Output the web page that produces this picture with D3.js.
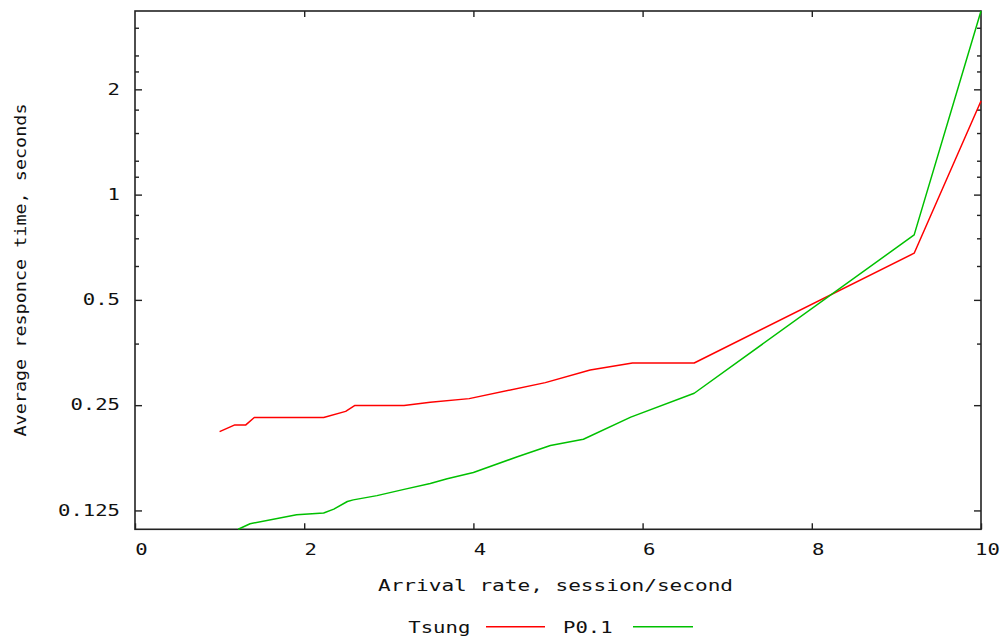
<!DOCTYPE html>
<html>
<head>
<meta charset="utf-8">
<script src="https://cdn.jsdelivr.net/npm/d3@7"></script>
<style>
  html, body { margin: 0; padding: 0; background: #fff; }
  svg { display: block; }
  text { font-family: "DejaVu Sans Mono", "Liberation Mono", monospace; font-size: 15px; fill: #111; }
</style>
</head>
<body>
<svg id="chart" width="1003" height="642"></svg>
<script>
// Arrival rate (sessions/second) and average response time (seconds) per load generator
const tsungRate = [1.0, 1.18, 1.31, 1.41, 2.23, 2.49, 2.60, 3.18, 3.49, 3.95, 4.85, 5.38, 5.88, 6.61, 9.21, 10.0];
const tsungTime = [0.210, 0.2195, 0.2195, 0.2305, 0.2305, 0.240, 0.2495, 0.2495, 0.255, 0.261, 0.290, 0.315, 0.330, 0.330, 0.680, 1.852];

const p01Rate = [1.22, 1.36, 1.91, 2.23, 2.35, 2.51, 2.58, 2.86, 3.18, 3.49, 3.69, 4.0, 4.52, 4.91, 5.30, 5.86, 6.61, 9.21, 10.0];
const p01Time = [0.1104, 0.1145, 0.1215, 0.1229, 0.1261, 0.1326, 0.134, 0.1378, 0.1436, 0.1492, 0.154, 0.1604, 0.178, 0.1916, 0.1997, 0.231, 0.2704, 0.767, 3.35];

const seriesNames = ["Tsung", "P0.1"];
const seriesColors = ["#ff0000", "#00c000"];

const xTicks = [0, 2, 4, 6, 8, 10];
const yTicks = [0.125, 0.25, 0.5, 1, 2];
const yMinorTicks = [0.375, 0.625, 0.75, 0.875, 1.125, 1.25, 1.5, 1.75, 2.25, 2.5, 3];

const xTitle = "Arrival rate, session/second";
const yTitle = "Average responce time, seconds";

// ---- layout ----
const W = 1003, H = 642;
const m = { left: 135, right: 22, top: 11, bottom: 112.7 };
const pw = W - m.left - m.right, ph = H - m.top - m.bottom;
const CHAR_W = 12.4;

const svg = d3.select("#chart");
const g = svg.append("g").attr("transform", `translate(${m.left},${m.top})`);

const x = d3.scaleLinear().domain([0, 10]).range([0, pw]);
const yExtent = d3.extent(tsungTime.concat(p01Time));
const y = d3.scaleLog().base(2).domain(yExtent).range([ph, 0]);

// stretch monospace labels to a wide fixed pitch
function widen(sel, cw) {
  sel.each(function () {
    const t = d3.select(this);
    const s = t.text();
    t.attr("textLength", s.length * (cw || CHAR_W)).attr("lengthAdjust", "spacingAndGlyphs");
  });
}

function styleAxis(sel) {
  sel.select(".domain").remove();
  sel.selectAll(".tick line").attr("stroke", "#222").attr("stroke-width", 1.4);
}

// bottom axis
const xAxis = g.append("g").attr("transform", `translate(0,${ph})`)
  .call(d3.axisBottom(x).tickValues(xTicks).tickFormat(d3.format("d")).tickSizeInner(-6).tickSizeOuter(0).tickPadding(15.5));
styleAxis(xAxis);
xAxis.selectAll("text").attr("dx", 6).style("font-size", "15px").style("font-family", null);
widen(xAxis.selectAll("text"));

// top mirrored ticks
const xTop = g.append("g")
  .call(d3.axisTop(x).tickValues(xTicks.slice(1, -1)).tickSizeInner(-6).tickSizeOuter(0).tickFormat(""));
styleAxis(xTop);

// left axis
const yAxis = g.append("g")
  .call(d3.axisLeft(y).tickValues(yTicks).tickFormat(d => String(d)).tickSizeInner(-7).tickSizeOuter(0).tickPadding(15));
styleAxis(yAxis);
yAxis.selectAll("text").style("font-size", "15px").style("font-family", null);
widen(yAxis.selectAll("text"));

const yMinor = g.append("g")
  .call(d3.axisLeft(y).tickValues(yMinorTicks).tickFormat("").tickSizeInner(-4).tickSizeOuter(0));
styleAxis(yMinor);

// right mirrored ticks
const yRight = g.append("g").attr("transform", `translate(${pw},0)`)
  .call(d3.axisRight(y).tickValues(yTicks).tickFormat("").tickSizeInner(-7).tickSizeOuter(0));
styleAxis(yRight);
const yRightMinor = g.append("g").attr("transform", `translate(${pw},0)`)
  .call(d3.axisRight(y).tickValues(yMinorTicks).tickFormat("").tickSizeInner(-4).tickSizeOuter(0));
styleAxis(yRightMinor);

// plot border
g.append("rect").attr("x", 0).attr("y", 0).attr("width", pw).attr("height", ph)
  .attr("fill", "none").attr("stroke", "#222").attr("stroke-width", 1.6);

// data lines
g.append("clipPath").attr("id", "plotClip")
  .append("rect").attr("x", 0).attr("y", -1).attr("width", pw + 1).attr("height", ph + 2);

const line = d3.line().x(d => x(d[0])).y(d => y(d[1]));
const series = [
  d3.zip(tsungRate, tsungTime),
  d3.zip(p01Rate, p01Time)
];
series.forEach((pts, i) => {
  g.append("path").datum(pts)
    .attr("clip-path", "url(#plotClip)")
    .attr("fill", "none")
    .attr("stroke", seriesColors[i])
    .attr("stroke-width", 1.5)
    .attr("stroke-linejoin", "round")
    .attr("d", line);
});

// axis titles
const xt = svg.append("text").attr("x", 378).attr("y", 590.5).text(xTitle);
widen(xt, 12.68);

const yt = svg.append("text")
  .attr("transform", "translate(26,270) rotate(-90)")
  .attr("text-anchor", "middle")
  .text(yTitle);
widen(yt, 11.1);

// legend
const legend = svg.append("g");
const legendX = [408.3, 563];
const legendLine = [[486, 545], [633, 693]];
seriesNames.forEach((name, i) => {
  const t = legend.append("text").attr("x", legendX[i]).attr("y", 632.7).text(name);
  widen(t, 12.4);
  legend.append("line")
    .attr("x1", legendLine[i][0]).attr("x2", legendLine[i][1])
    .attr("y1", 626.7).attr("y2", 626.7)
    .attr("stroke", seriesColors[i]).attr("stroke-width", 1.5);
});
</script>
</body>
</html>
